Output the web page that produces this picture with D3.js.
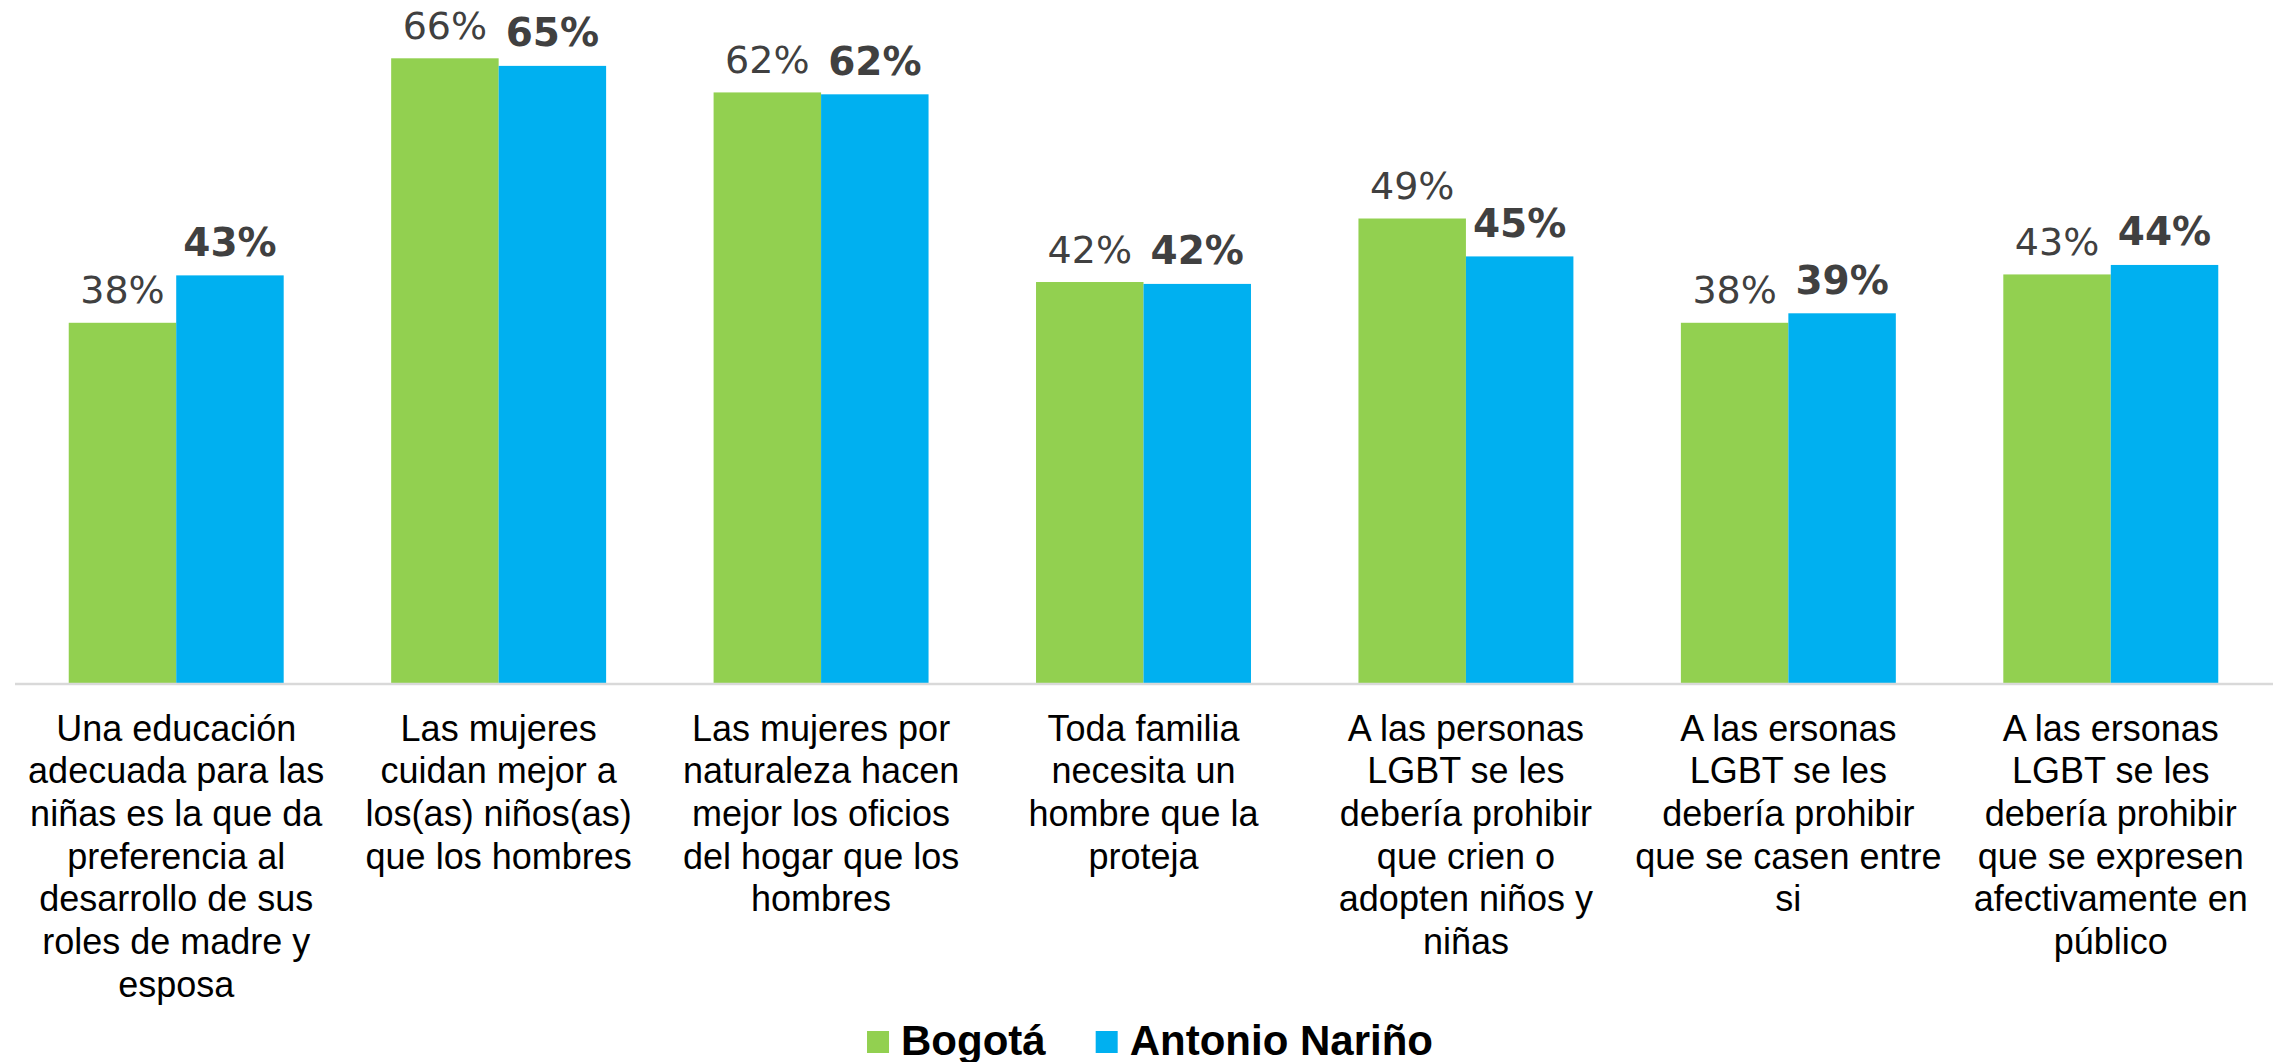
<!DOCTYPE html>
<html>
<head>
<meta charset="utf-8">
<script src="https://cdn.jsdelivr.net/npm/d3@7"></script>
<style>
  body { margin: 0; background: #fff; }
  .valueLabel { font-family: 'DejaVu Sans', Verdana, sans-serif; font-size: 38px; fill: #404040; }
  .valueLabel.bold { font-weight: bold; font-size: 39px; }
  .catLabel { font-family: 'Liberation Sans', Arial, sans-serif; font-size: 36px; fill: #000; }
  .legendLabel { font-family: 'Liberation Sans', Arial, sans-serif; font-size: 42px; font-weight: bold; fill: #000; }
</style>
</head>
<body>
<div id="chart"></div>
<script>
var width = 2282, height = 1062;

// categories (line breaks as in the original)
var categories = [
    ['Una educación', 'adecuada para las', 'niñas es la que da', 'preferencia al', 'desarrollo de sus', 'roles de madre y', 'esposa'],
    ['Las mujeres', 'cuidan mejor a', 'los(as) niños(as)', 'que los hombres'],
    ['Las mujeres por', 'naturaleza hacen', 'mejor los oficios', 'del hogar que los', 'hombres'],
    ['Toda familia', 'necesita un', 'hombre que la', 'proteja'],
    ['A las personas', 'LGBT se les', 'debería prohibir', 'que crien o', 'adopten niños y', 'niñas'],
    ['A las ersonas', 'LGBT se les', 'debería prohibir', 'que se casen entre', 'si'],
    ['A las ersonas', 'LGBT se les', 'debería prohibir', 'que se expresen', 'afectivamente en', 'público']
];

var seriesNames = ['Bogotá', 'Antonio Nariño'];
var bogota = [38.0, 65.9, 62.3, 42.3, 49.0, 38.0, 43.1];
var antonioNarino = [43.0, 65.1, 62.1, 42.1, 45.0, 39.0, 44.1];

var colors = ['#92D050', '#00B0F0'];

var baseY = 683;

var svg = d3.select('#chart').append('svg')
    .attr('width', width)
    .attr('height', height);

var data = categories.map((c, i) => ({
    key: i,
    lines: c,
    values: [bogota[i], antonioNarino[i]]
}));

var x0 = d3.scaleBand()
    .domain(data.map(d => d.key))
    .range([15, 2272])
    .paddingInner(1 / 3)
    .paddingOuter(1 / 6);

var x1 = d3.scaleBand()
    .domain([0, 1])
    .range([0, x0.bandwidth()]);

var y = d3.scaleLinear()
    .domain([0, 72.05])
    .range([baseY, 0]);

var groups = svg.selectAll('g.group')
    .data(data)
    .enter()
    .append('g')
    .attr('class', 'group')
    .attr('transform', d => `translate(${x0(d.key)},0)`);

groups.selectAll('rect.bar')
    .data(d => d.values.map((v, s) => ({ s: s, value: v })))
    .enter()
    .append('rect')
    .attr('class', 'bar')
    .attr('x', d => x1(d.s))
    .attr('width', x1.bandwidth())
    .attr('y', d => y(d.value))
    .attr('height', d => y(0) - y(d.value))
    .style('fill', d => colors[d.s]);

groups.selectAll('text.valueLabel')
    .data(d => d.values.map((v, s) => ({ s: s, value: v })))
    .enter()
    .append('text')
    .attr('class', d => d.s === 1 ? 'valueLabel bold' : 'valueLabel')
    .attr('x', d => x1(d.s) + x1.bandwidth() / 2)
    .attr('y', d => y(d.value) - 19.5)
    .style('text-anchor', 'middle')
    .text(d => Math.round(d.value) + '%');

// axis baseline
svg.append('line')
    .attr('x1', 15)
    .attr('x2', 2273)
    .attr('y1', baseY + 1)
    .attr('y2', baseY + 1)
    .style('stroke', '#d9d9d9')
    .style('stroke-width', 2.5);

// category labels
var catText = groups.append('text')
    .attr('class', 'catLabel')
    .attr('x', x0.bandwidth() / 2)
    .attr('y', 740.5)
    .style('text-anchor', 'middle');

catText.selectAll('tspan')
    .data(d => d.lines)
    .enter()
    .append('tspan')
    .attr('x', x0.bandwidth() / 2)
    .attr('dy', (d, i) => i === 0 ? 0 : 42.7)
    .text(d => d);

// legend
var legend = svg.append('g').attr('class', 'legend');
var lx = 0;
seriesNames.forEach((name, i) => {
    var item = legend.append('g').attr('transform', `translate(${lx},0)`);
    item.append('rect')
        .attr('x', 0)
        .attr('y', -24)
        .attr('width', 22)
        .attr('height', 22)
        .style('fill', colors[i]);
    var t = item.append('text')
        .attr('class', 'legendLabel')
        .attr('x', 34)
        .attr('y', 0)
        .text(name);
    lx += 34 + t.node().getComputedTextLength() + 50;
});
var legendW = lx - 50;
legend.attr('transform', `translate(${1150 - legendW / 2},1055)`);
</script>
</body>
</html>
